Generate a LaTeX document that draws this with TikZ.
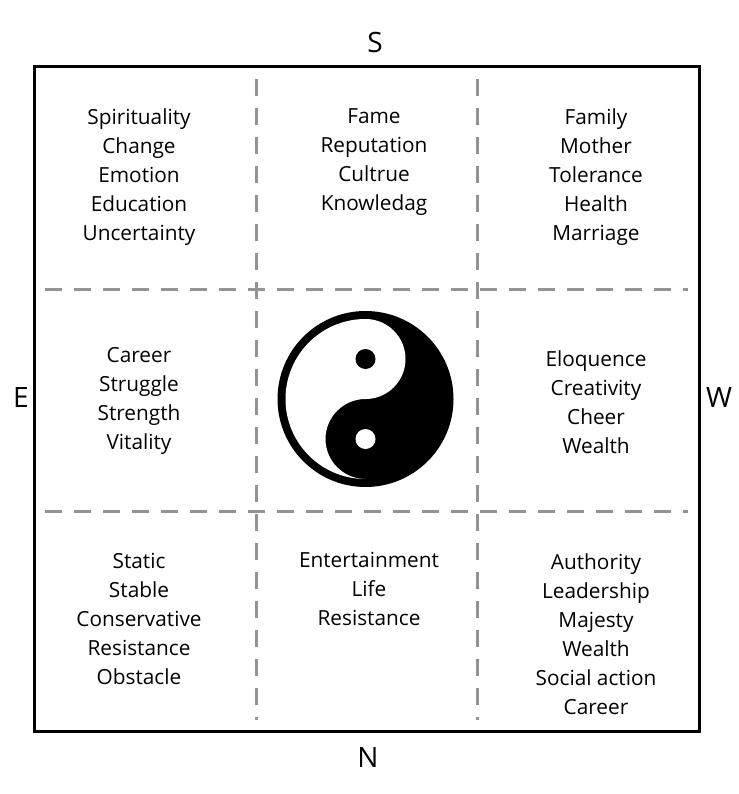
\documentclass[tikz,border=0pt]{standalone}
\usepackage{fontspec}
\setmainfont{Open Sans}
\tikzset{
  cell/.style={align=center, font=\fontsize{20.8}{29}\selectfont, inner sep=0pt},
  dir/.style={font=\fontsize{28}{32}\selectfont, inner sep=0pt},
  grid/.style={draw=gray!85, line width=3pt, dash pattern=on 17pt off 12pt},
}
\begin{document}
\begin{tikzpicture}[x=1pt,y=-1pt]
\useasboundingbox (0,0) rectangle (738,794);
% frame and dashed grid
\draw[line width=3pt] (34,67) rectangle (699,731);
\coordinate (h1a) at (45,289);  \coordinate (h1b) at (688,289);
\coordinate (h2a) at (45,511);  \coordinate (h2b) at (688,511);
\coordinate (v1a) at (256,79);  \coordinate (v1b) at (256,720);
\coordinate (v2a) at (477,79);  \coordinate (v2b) at (477,720);
\draw[grid] (h1a) -- (h1b);
\draw[grid] (h2a) -- (h2b);
\draw[grid] (v1a) -- (v1b);
\draw[grid] (v2a) -- (v2b);
% directions
\node[dir] (S) at (375,42.5) {S};
\node[dir] (E) at (21,398) {E};
\node[dir] (W) at (719,397.5) {W};
\node[dir] (N) at (368,757) {N};
% cells
\node[cell,anchor=north] (nw) at (139,108) {Spirituality\\Change\\Emotion\\Education\\Uncertainty};
\node[cell,anchor=north] (nc) at (374,108) {Fame\\Reputation\\Cultrue\\Knowledag};
\node[cell,anchor=north] (ne) at (596,108) {Family\\Mother\\Tolerance\\Health\\Marriage};
\node[cell] (mw) at (139,401) {Career\\Struggle\\Strength\\Vitality};
\node[cell] (me) at (596,402) {Eloquence\\Creativity\\Cheer\\Wealth};
\node[cell,anchor=north] (sw) at (139,553) {Static\\Stable\\Conservative\\Resistance\\Obstacle};
\node[cell,anchor=north] (sc) at (369,552) {Entertainment\\Life\\Resistance};
\node[cell,anchor=north] (se) at (596,553) {Authority\\Leadership\\Majesty\\Wealth\\Social action\\Career};
% yin yang
\begin{scope}[shift={(365.5,399)}, yscale=-1]
\fill (0,0) circle (88);
\fill[white] (0,80) arc[start angle=90, end angle=270, radius=80]
  arc[start angle=-90, end angle=-270, radius=40]
  arc[start angle=-90, end angle=90, radius=40] -- cycle;
\fill (0,40) circle (10);
\fill[white] (0,-40) circle (10);
\end{scope}
\end{tikzpicture}
\end{document}
